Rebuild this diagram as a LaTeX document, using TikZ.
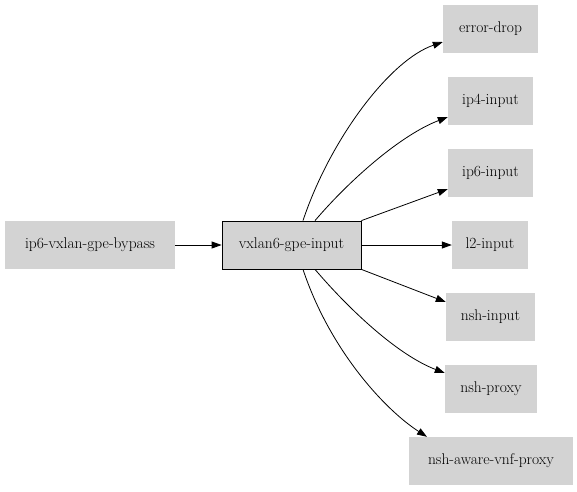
\documentclass[tikz,border=0pt]{standalone}
\usetikzlibrary{arrows.meta}
\definecolor{nodegray}{HTML}{D3D3D3}

\begin{document}
\begin{tikzpicture}[x=1pt,y=-1pt,
  box/.style={fill=nodegray,minimum height=48pt,inner sep=0pt,font=\fontsize{15.5}{18}\selectfont},
  edge/.style={-{Triangle[length=10pt,width=7pt]},line width=0.8pt}]
  \useasboundingbox (0,0) rectangle (577,491);

  \node[box,minimum width=170pt] (bypass) at (90,245) {ip6-vxlan-gpe-bypass};
  \node[box,draw,line width=0.8pt,minimum width=139pt] (vxlan) at (291.5,245) {vxlan6-gpe-input};

  \node[box,minimum width=95pt] (errdrop) at (490.5,29) {error-drop};
  \node[box,minimum width=85pt] (ip4) at (490.5,101) {ip4-input};
  \node[box,minimum width=85pt] (ip6) at (490.5,173) {ip6-input};
  \node[box,minimum width=76pt] (l2) at (490,245) {l2-input};
  \node[box,minimum width=89pt] (nshin) at (490.5,317) {nsh-input};
  \node[box,minimum width=92pt] (nshproxy) at (491,389) {nsh-proxy};
  \node[box,minimum width=164pt] (nshaware) at (491,461) {nsh-aware-vnf-proxy};

  \draw[edge] (bypass) -- (vxlan);

  \draw[edge] ([xshift=11.5pt]vxlan.north) .. controls +(27,-81) and +(-53,18) .. ([yshift=-13pt]errdrop.west);
  \draw[edge] ([xshift=23.5pt]vxlan.north) .. controls +(35,-41) and +(-47,18) .. ([yshift=-16pt]ip4.west);
  \draw[edge] (vxlan.north east) -- ([yshift=-16pt]ip6.west);
  \draw[edge] (vxlan) -- (l2);
  \draw[edge] (vxlan.south east) -- ([yshift=15pt]nshin.west);
  \draw[edge] ([xshift=23.5pt]vxlan.south) .. controls +(35,41) and +(-47,-18) .. ([yshift=16pt]nshproxy.west);
  \draw[edge] ([xshift=11.5pt]vxlan.south) .. controls +(27,81) and +(-42,-27) .. ([xshift=-64pt]nshaware.north);
\end{tikzpicture}
\end{document}
